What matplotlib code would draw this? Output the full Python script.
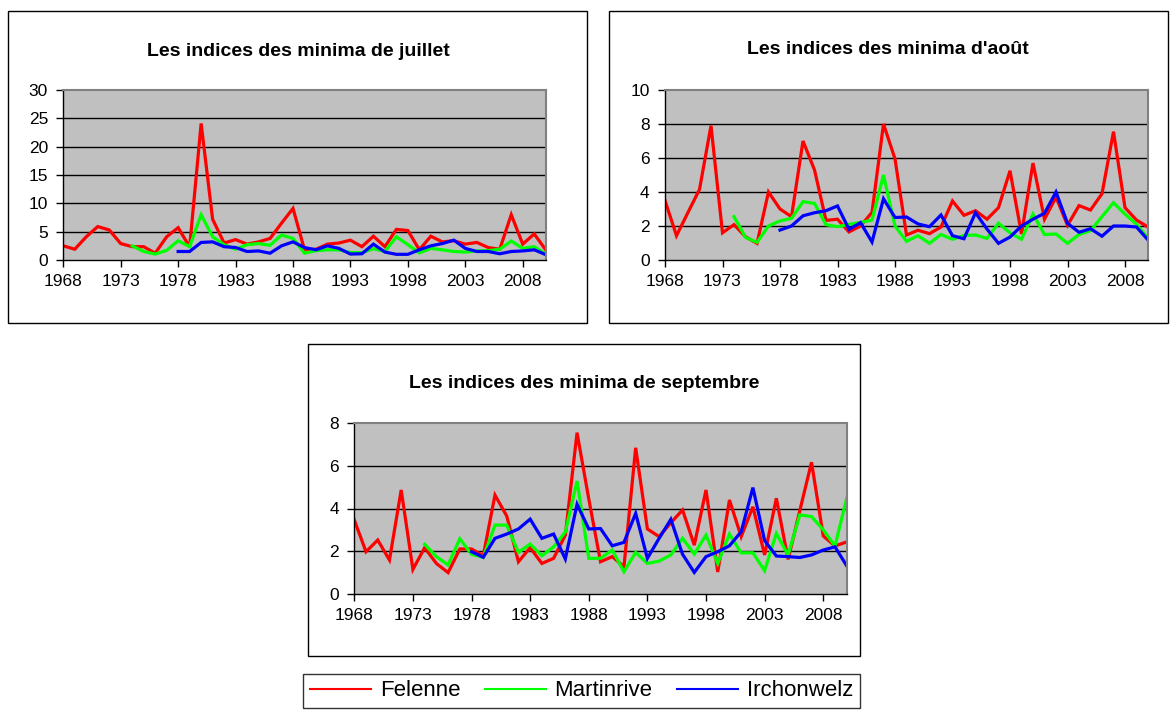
import numpy as np
import matplotlib
matplotlib.use("Agg")
import matplotlib.pyplot as plt
from matplotlib.patches import Rectangle
from matplotlib.lines import Line2D

plt.rcParams['font.family'] = ['Liberation Sans', 'DejaVu Sans']

years = list(range(1968, 2011))
xtick_years = list(range(1968, 2011, 5))
NA = np.nan

stations = ["Felenne", "Martinrive", "Irchonwelz"]
colors = ["#FF0000", "#00FF00", "#0000FF"]

# --- juillet ---
jul_felenne = [2.5, 1.9, 4.1, 5.9, 5.3, 2.9, 2.35, 2.35, 1.2, 4.1, 5.7, 2.3, 24.1, 7.2, 3.0,
               3.6, 2.8, 3.2, 3.8, 6.5, 9.1, 1.8, 1.9, 2.8, 3.0, 3.5, 2.35, 4.2, 2.35, 5.4,
               5.2, 1.8, 4.2, 3.2, 3.4, 2.8, 3.1, 2.2, 1.9, 8.0, 2.8, 4.6, 1.8]
jul_martinrive = [NA] * 6 + [2.5, 1.5, 1.05, 1.7, 3.4, 2.35, 8.0, 4.1, 2.7, 1.9, 2.7, 2.9, 2.6,
                             4.4, 3.8, 1.2, 1.65, 1.8, 1.8, 1.3, 1.3, 2.0, 1.5, 4.1, 2.7, 1.25,
                             2.05, 1.8, 1.5, 1.4, 1.6, 1.65, 1.9, 3.35, 2.05, 2.35, 1.05]
jul_irchonwelz = [NA] * 10 + [1.5, 1.5, 3.1, 3.2, 2.35, 2.2, 1.5, 1.6, 1.2, 2.5, 3.2, 2.2, 1.8,
                              2.5, 2.05, 1.05, 1.1, 2.8, 1.4, 1.0, 1.0, 1.8, 2.5, 2.9, 3.5, 2.05,
                              1.5, 1.5, 1.1, 1.5, 1.6, 1.8, 0.95]

# --- août ---
aug_felenne = [3.5, 1.43, 2.8, 4.15, 7.9, 1.6, 2.08, 1.37, 0.98, 4.0, 3.0, 2.55, 7.0, 5.3, 2.33,
               2.4, 1.65, 2.0, 2.8, 8.0, 5.95, 1.47, 1.75, 1.55, 1.94, 3.47, 2.63, 2.9, 2.4,
               3.08, 5.25, 1.53, 5.7, 2.4, 3.7, 2.04, 3.2, 2.94, 3.9, 7.55, 3.08, 2.35, 1.94]
aug_martinrive = [NA] * 6 + [2.55, 1.33, 1.04, 2.0, 2.3, 2.45, 3.43, 3.33, 2.08, 1.96, 2.1, 2.2,
                             2.35, 5.0, 2.0, 1.1, 1.43, 0.98, 1.5, 1.22, 1.45, 1.47, 1.27, 2.16,
                             1.6, 1.22, 2.7, 1.5, 1.53, 0.98, 1.5, 1.73, 2.55, 3.37, 2.7, 2.1, 1.27]
aug_irchonwelz = [NA] * 10 + [1.76, 2.0, 2.6, 2.78, 2.9, 3.18, 1.8, 2.2, 1.06, 3.6, 2.5, 2.53,
                              2.12, 1.96, 2.65, 1.43, 1.25, 2.78, 1.82, 0.98, 1.35, 2.0, 2.4, 2.75,
                              4.0, 2.16, 1.63, 1.84, 1.4, 2.0, 2.0, 1.94, 1.18]

# --- septembre ---
sep_felenne = [3.46, 1.97, 2.52, 1.58, 4.87, 1.14, 2.16, 1.42, 0.99, 2.1, 2.1, 1.78, 4.63, 3.65,
               1.5, 2.16, 1.42, 1.66, 2.75, 7.56, 4.45, 1.5, 1.74, 1.27, 6.85, 3.04, 2.68, 3.33,
               3.93, 2.28, 4.87, 1.02, 4.4, 2.68, 4.08, 1.82, 4.48, 1.61, 3.9, 6.17, 2.71, 2.24, 2.43]
sep_martinrive = [NA] * 6 + [2.32, 1.74, 1.35, 2.58, 1.85, 1.71, 3.22, 3.22, 1.94, 2.33, 1.78,
                             2.2, 2.9, 5.29, 1.66, 1.66, 2.05, 1.03, 1.94, 1.42, 1.53, 1.82, 2.6,
                             1.86, 2.75, 1.42, 2.8, 1.92, 1.92, 1.08, 2.83, 1.82, 3.7, 3.62, 3.0,
                             2.24, 4.48]
sep_irchonwelz = [NA] * 10 + [1.97, 1.71, 2.6, 2.8, 3.04, 3.5, 2.6, 2.8, 1.63, 4.2, 3.04, 3.06,
                              2.25, 2.41, 3.77, 1.66, 2.6, 3.49, 1.85, 1.0, 1.74, 1.97, 2.25, 2.91,
                              4.98, 2.49, 1.77, 1.74, 1.7, 1.82, 2.05, 2.2, 1.31]

titles = ["Les indices des minima de juillet",
          "Les indices des minima d'août",
          "Les indices des minima de septembre"]
ymaxes = [30, 10, 8]
ysteps = [5, 2, 2]

W, H = 1176, 711
fig = plt.figure(figsize=(W / 100, H / 100), dpi=100)


def px_rect(x0, y0, x1, y1):
    return [x0 / W, 1 - y1 / H, (x1 - x0) / W, (y1 - y0) / H]


def box(x0, y0, x1, y1, ec="black", lw=1.0):
    fig.patches.append(Rectangle((x0 / W, 1 - y1 / H), (x1 - x0) / W, (y1 - y0) / H,
                                 transform=fig.transFigure, fill=False, ec=ec, lw=lw))


chart_boxes = [(8, 11, 587, 323), (609, 11, 1168, 323), (308, 344, 860, 656)]
plot_areas = [(63.3, 90, 545.7, 260), (665, 90, 1148, 260), (354.3, 423.3, 846.7, 593.7)]
title_pos = [(298, 52), (888, 49), (584, 384)]
datasets = [
    (jul_felenne, jul_martinrive, jul_irchonwelz),
    (aug_felenne, aug_martinrive, aug_irchonwelz),
    (sep_felenne, sep_martinrive, sep_irchonwelz),
]

for k in range(3):
    box(*chart_boxes[k])
    ax = fig.add_axes(px_rect(*plot_areas[k]))
    ax.set_facecolor("#C0C0C0")
    for series, c in zip(datasets[k], colors):
        ax.plot(years, series, color=c, lw=2.3, solid_joinstyle="miter")
    ax.set_xlim(years[0], years[-1])
    ax.set_ylim(0, ymaxes[k])
    yt = np.arange(0, ymaxes[k] + 0.001, ysteps[k])
    ax.set_yticks(yt)
    ax.set_yticklabels([f"{int(v)}" for v in yt])
    ax.set_xticks(xtick_years)
    ax.set_xticklabels([str(y) for y in xtick_years])
    for v in yt[1:-1]:
        ax.axhline(v, color="black", lw=1.0, zorder=1)
    ax.tick_params(axis="both", labelsize=12.5, direction="out", length=5, width=1,
                   color="black", pad=5)
    ax.tick_params(axis="y", pad=6)
    for s in ["top", "right"]:
        ax.spines[s].set_color("#808080")
        ax.spines[s].set_linewidth(1.5)
    for s in ["left", "bottom"]:
        ax.spines[s].set_color("black")
        ax.spines[s].set_linewidth(1.0)
    tx, ty = title_pos[k]
    fig.text(tx / W, 1 - ty / H, titles[k], ha="center", va="center",
             fontsize=14, fontweight="bold")

# legend
handles = [Line2D([], [], color=c, lw=1.5) for c in colors]
leg = fig.legend(handles, stations, ncol=3, loc="lower left",
                 bbox_to_anchor=(303 / W, 1 - 708 / H, 557 / W, 40 / H), mode="expand",
                 borderaxespad=0, frameon=True, fancybox=False, fontsize=16,
                 handlelength=2.75, handletextpad=0.4, borderpad=0.3)
leg.get_frame().set_edgecolor("black")
leg.get_frame().set_linewidth(1.0)

fig.savefig("out.png", dpi=100)
